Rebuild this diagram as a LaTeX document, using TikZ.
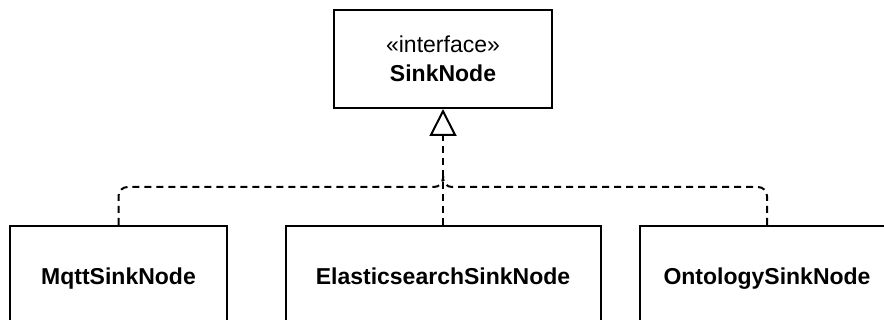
\documentclass[tikz,border=0pt]{standalone}
\usepackage{fontspec}
\setmainfont{Liberation Sans}
\usetikzlibrary{arrows.meta}
\begin{document}
\begin{tikzpicture}[x=1pt,y=-1pt,
  box/.style={draw=black, line width=2pt, fill=white, inner sep=0pt, align=center,
    font=\fontsize{23}{29}\selectfont},
  leaf/.style={box, minimum height=106pt, text height=17pt, text depth=5pt},
  realize/.style={draw=black, line width=2pt, dash pattern=on 7pt off 5pt, rounded corners=9pt},
  tip/.style={-{Triangle[open, length=27pt, width=27pt, line width=2pt]}}]
\useasboundingbox (0,0) rectangle (884,320);
\begin{scope}
\clip (0,0) rectangle (884,320);
\node[box, minimum width=218pt, minimum height=98pt] (top) at (443,59)
  {«interface»\\\textbf{SinkNode}};
\node[leaf, minimum width=217pt] (mqtt) at (118.5,279) {\textbf{MqttSinkNode}};
\node[leaf, minimum width=315pt] (elastic) at (443,279) {\textbf{ElasticsearchSinkNode}};
\node[leaf, minimum width=254pt] (onto) at (767,279) {\textbf{OntologySinkNode}};
\coordinate (j) at (443,187);
\coordinate (jup) at (443,176);
\draw[realize, tip] (elastic.north) -- (top.south);
\draw[realize] (mqtt.north) |- (j) -- (jup);
\draw[realize] (onto.north) |- (j) -- (jup);
\end{scope}
\end{tikzpicture}
\end{document}
